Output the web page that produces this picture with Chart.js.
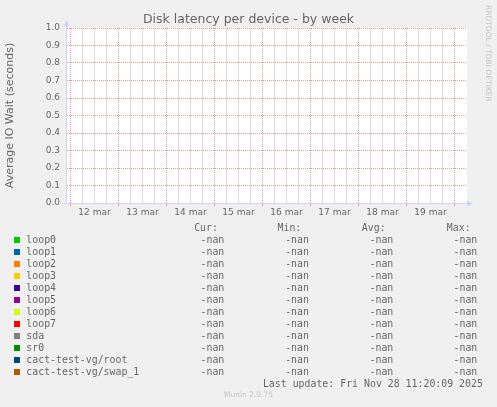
<!DOCTYPE html>
<html><head><meta charset="utf-8">
<script src="https://cdn.jsdelivr.net/npm/chart.js@4.4.1/dist/chart.umd.min.js"></script>
<style>
html,body{margin:0;padding:0;background:#f0f0f0;}
#wrap{position:relative;width:497px;height:407px;overflow:hidden;background:#f0f0f0;}
#plotbg{position:absolute;left:67px;top:28px;width:400px;height:175px;background:#ffffff;}
#c{position:absolute;left:0;top:0;}
.t{position:absolute;white-space:pre;font-family:"DejaVu Sans Mono",monospace;font-size:9.9px;line-height:12px;color:#666;}
.sw{position:absolute;width:6px;height:6px;}
.small{position:absolute;white-space:pre;font-family:"DejaVu Sans",sans-serif;font-size:7.5px;color:#c4c4c4;}
</style></head><body>
<div id="wrap"><div id="plotbg"></div><canvas id="c" width="497" height="407"></canvas><div id="leg"></div></div>
<script>
// ---- data ----
const chartTitle = "Disk latency per device - by week";
const yAxisTitle = "Average IO Wait (seconds)";
const dayLabels = ["12 mar","13 mar","14 mar","15 mar","16 mar","17 mar","18 mar","19 mar"];
const yTickValues = [0.0,0.1,0.2,0.3,0.4,0.5,0.6,0.7,0.8,0.9,1.0];
const devices = ["loop0","loop1","loop2","loop3","loop4","loop5","loop6","loop7","sda","sr0","cact-test-vg/root","cact-test-vg/swap_1"];
const deviceColors = ["#00cc00","#0066b3","#ff8000","#ffcc00","#330099","#990099","#ccff00","#ff0000","#808080","#008f00","#00487d","#b35a00"];
const curValues = ["-nan","-nan","-nan","-nan","-nan","-nan","-nan","-nan","-nan","-nan","-nan","-nan"];
const minValues = ["-nan","-nan","-nan","-nan","-nan","-nan","-nan","-nan","-nan","-nan","-nan","-nan"];
const avgValues = ["-nan","-nan","-nan","-nan","-nan","-nan","-nan","-nan","-nan","-nan","-nan","-nan"];
const maxValues = ["-nan","-nan","-nan","-nan","-nan","-nan","-nan","-nan","-nan","-nan","-nan","-nan"];
const seriesPoints = [[],[],[],[],[],[],[],[],[],[],[],[]]; // no samples (all NaN)
const columnHeaders = ["Cur:","Min:","Avg:","Max:"];
const lastUpdate = "Last update: Fri Nov 28 11:20:09 2025";
const versionText = "Munin 2.0.75";
const watermark = "RRDTOOL / TOBI OETIKER";
// x axis in hours from 12 mar 00:00
const xMinHours = -1.75, xMaxHours = 198.25, minorStepHours = 6;

// ---- chart ----
const MGRID = "#eb9595";
const GRID = "#dcdcdc";
const AXIS = "#CFD6F8";
const isDay = (c) => !!(c.tick && c.tick.value % 24 === 0);

const axesPlugin = {
  id: "axesArrows",
  afterDraw(chart) {
    const {ctx, chartArea: a} = chart;
    ctx.save();
    ctx.setLineDash([]);
    ctx.strokeStyle = AXIS; ctx.fillStyle = AXIS; ctx.lineWidth = 1;
    const ax = Math.round(a.left) - 0.5, ay = Math.round(a.bottom) + 0.5;
    ctx.beginPath();
    ctx.moveTo(ax, ay); ctx.lineTo(ax, a.top - 4);
    ctx.moveTo(ax - 3, ay); ctx.lineTo(a.right + 2, ay);
    ctx.stroke();
    ctx.beginPath();
    ctx.moveTo(ax, a.top - 8); ctx.lineTo(ax - 3, a.top - 2); ctx.lineTo(ax + 3, a.top - 2); ctx.closePath(); ctx.fill();
    ctx.beginPath();
    ctx.moveTo(a.right + 6, ay); ctx.lineTo(a.right, ay - 3); ctx.lineTo(a.right, ay + 3); ctx.closePath(); ctx.fill();
    ctx.restore();
  }
};

new Chart(document.getElementById("c"), {
  type: "line",
  data: {
    datasets: devices.map((d, i) => ({
      label: d, data: seriesPoints[i], borderColor: deviceColors[i], backgroundColor: deviceColors[i],
      borderWidth: 1, pointRadius: 0
    }))
  },
  options: {
    responsive: false, animation: false, devicePixelRatio: 1,
    layout: {padding: {left: 0, right: 0, top: 0, bottom: 182}},
    plugins: {
      legend: {display: false}, tooltip: {enabled: false},
      title: {display: true, text: chartTitle, color: "#666",
        font: {family: "DejaVu Sans", size: 12.5, weight: "normal"}, padding: {top: 12, bottom: 1}}
    },
    scales: {
      x: {
        type: "linear", min: xMinHours, max: xMaxHours,
        afterBuildTicks(s) {
          const t = [];
          for (let h = 0; h < xMaxHours - 1; h += minorStepHours) t.push({value: h});
          s.ticks = t;
        },
        afterFit(s) { s.height = 22; },
        ticks: {autoSkip: false, maxRotation: 0, minRotation: 0, padding: 1, color: "#666",
          font: {family: "DejaVu Sans", size: 9},
          callback: (v) => (v % 24 === 12 ? dayLabels[(v - 12) / 24] : "")},
        grid: {color: (c) => (isDay(c) ? MGRID : GRID),
          tickColor: (c) => (isDay(c) ? MGRID : "rgba(0,0,0,0)"),
          tickLength: 3, lineWidth: 1},
        border: {display: false, dash: (c) => (isDay(c) ? [1, 1] : [])}
      },
      y: {
        type: "linear", min: 0, max: 1,
        afterBuildTicks(s) { s.ticks = yTickValues.map(v => ({value: v})); },
        afterFit(s) { s.width = 67; },
        ticks: {padding: 7, color: "#666", font: {family: "DejaVu Sans", size: 9},
          callback: (v) => Number(v).toFixed(1)},
        grid: {color: MGRID, drawTicks: false, lineWidth: 1},
        border: {display: false, dash: [1, 1]},
        title: {display: true, text: yAxisTitle, color: "#666",
          font: {family: "DejaVu Sans", size: 11}, padding: {top: 4, bottom: 0}}
      },
      yRight: {
        type: "linear", position: "right", display: true, min: 0, max: 1,
        afterFit(s) { s.width = 30; },
        ticks: {display: false}, grid: {display: false}, border: {display: false}
      }
    }
  },
  plugins: [axesPlugin]
});

// ---- legend (text) ----
const leg = document.getElementById("leg");
function addText(txt, x, top, alignRight, cls) {
  const d = document.createElement("div");
  d.className = cls || "t";
  d.textContent = txt;
  d.style.top = top + "px";
  if (alignRight) d.style.right = (497 - x) + "px"; else d.style.left = x + "px";
  leg.appendChild(d);
  return d;
}
const headerRight = [217.9, 301.3, 385.6, 470.6];
const valueRight = [224.3, 308.9, 393.3, 477.3];
columnHeaders.forEach((h, i) => addText(h, headerRight[i], 222, true));
const cols = [curValues, minValues, avgValues, maxValues];
devices.forEach((d, i) => {
  const top = 234 + 12 * i;
  const sw = document.createElement("div");
  sw.className = "sw"; sw.style.left = "14px"; sw.style.top = (top + 3) + "px";
  sw.style.background = deviceColors[i];
  leg.appendChild(sw);
  addText(d, 26.3, top, false);
  cols.forEach((c, j) => addText(c[i], valueRight[j], top, true));
});
addText(lastUpdate, 482.9, 377.5, true);
const v = addText(versionText, 0, 390, false, "small");
v.style.left = "0px"; v.style.width = "497px"; v.style.textAlign = "center"; v.style.lineHeight = "10px";
const w = addText(watermark, 483.5, 5, false, "small");
w.style.writingMode = "vertical-rl"; w.style.lineHeight = "9px";
</script>
</body></html>
